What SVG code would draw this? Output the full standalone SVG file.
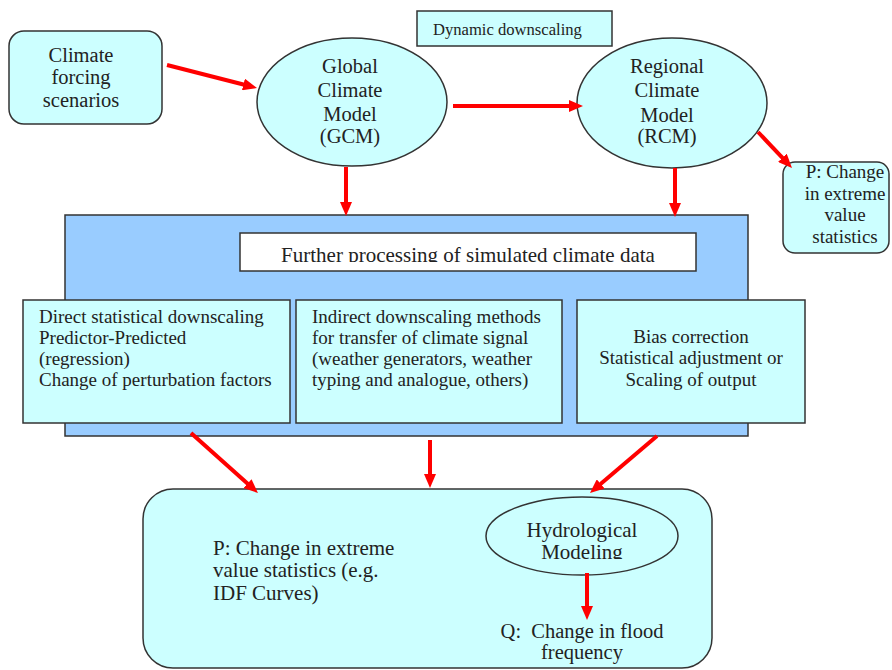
<svg xmlns="http://www.w3.org/2000/svg" width="892" height="670" viewBox="0 0 892 670">
<defs>
<style>
.box{fill:#ccffff;stroke:#333;stroke-width:1.5}
.blue{fill:#99ccff;stroke:#333;stroke-width:1.5}
.white{fill:#fff;stroke:#333;stroke-width:1.5}
.c{text-anchor:middle}
.arr{stroke:#ff0000;stroke-width:4;fill:none;marker-end:url(#ah)}
</style>
<marker id="ah" viewBox="0 0 14 12" markerWidth="14" markerHeight="12" refX="4" refY="6" orient="auto" markerUnits="userSpaceOnUse">
<path d="M0,0 L14,6 L0,12 z" fill="#ff0000"/>
</marker>
<clipPath id="clipF"><rect x="240" y="233" width="456" height="29"/></clipPath>
<clipPath id="clipH"><rect x="480" y="490" width="200" height="69"/></clipPath>
</defs>

<g font-family="Liberation Serif" font-size="19" fill="#222">

<g id="forcing" font-size="20.5">
<rect class="box" x="9" y="31" width="153" height="93" rx="15"/>
<text class="c" x="81" y="62">Climate</text>
<text class="c" x="81" y="84">forcing</text>
<text class="c" x="81" y="107">scenarios</text>
</g>

<g id="dynamic">
<rect class="box" x="417" y="11" width="195" height="35"/>
<text x="433" y="35" font-size="16.6">Dynamic downscaling</text>
</g>

<g id="gcm" font-size="20.5">
<ellipse class="box" cx="352" cy="102" rx="95" ry="64"/>
<text class="c" x="350" y="73">Global</text>
<text class="c" x="350" y="97">Climate</text>
<text class="c" x="350" y="121">Model</text>
<text class="c" x="350" y="143">(GCM)</text>
</g>

<g id="rcm" font-size="20.5">
<ellipse class="box" cx="672" cy="103" rx="95" ry="65"/>
<text class="c" x="667" y="73">Regional</text>
<text class="c" x="667" y="97">Climate</text>
<text class="c" x="667" y="122">Model</text>
<text class="c" x="667" y="143">(RCM)</text>
</g>

<g id="p-right">
<rect class="box" x="783" y="162" width="106" height="91" rx="12"/>
<text class="c" x="845" y="178">P: Change</text>
<text class="c" x="845" y="200">in extreme</text>
<text class="c" x="845" y="221">value</text>
<text class="c" x="845" y="243">statistics</text>
</g>

<g id="processing">
<rect class="blue" x="65" y="215" width="683" height="221"/>
<rect class="white" x="240" y="233" width="456" height="38"/>
<text class="c" x="468" y="262" font-size="21" clip-path="url(#clipF)">Further processing of simulated climate data</text>
</g>

<g id="direct">
<rect class="box" x="23" y="300" width="267" height="123"/>
<text x="39" y="323">Direct statistical downscaling</text>
<text x="39" y="344">Predictor-Predicted</text>
<text x="39" y="365">(regression)</text>
<text x="39" y="386">Change of perturbation factors</text>
</g>

<g id="indirect">
<rect class="box" x="296" y="300" width="266" height="123"/>
<text x="312" y="323">Indirect downscaling methods</text>
<text x="312" y="344">for transfer of climate signal</text>
<text x="312" y="365">(weather generators, weather</text>
<text x="312" y="386">typing and analogue, others)</text>
</g>

<g id="bias">
<rect class="box" x="577" y="300" width="228" height="123"/>
<text class="c" x="691" y="343">Bias correction</text>
<text class="c" x="691" y="364">Statistical adjustment or</text>
<text class="c" x="691" y="386">Scaling of output</text>
</g>

<g id="impacts" font-size="21">
<rect class="box" x="143" y="489" width="569" height="179" rx="30"/>
<text x="213" y="555">P: Change in extreme</text>
<text x="213" y="577">value statistics (e.g.</text>
<text x="213" y="600">IDF Curves)</text>
<text class="c" x="582" y="638" font-size="20.5">Q:&#160; Change in flood</text>
<text class="c" x="582" y="659" font-size="20.5">frequency</text>
</g>

<g id="hydro" font-size="21">
<ellipse class="box" cx="582" cy="536" rx="96" ry="39"/>
<text class="c" x="582" y="537">Hydrological</text>
<text class="c" x="582" y="559" clip-path="url(#clipH)">Modeling</text>
</g>

</g>

<g id="connectors">
<line class="arr" x1="167" y1="65" x2="247.3" y2="85.5"/>
<line class="arr" x1="453" y1="106" x2="573" y2="106"/>
<line class="arr" x1="758" y1="132" x2="785.1" y2="160.7"/>
<line class="arr" x1="346" y1="167" x2="346" y2="206"/>
<line class="arr" x1="675" y1="168" x2="675" y2="207"/>
<line class="arr" x1="191" y1="433" x2="250.5" y2="486.3"/>
<line class="arr" x1="430" y1="440" x2="430" y2="478"/>
<line class="arr" x1="657" y1="436" x2="597.6" y2="486.5"/>
<line class="arr" x1="587" y1="573" x2="587" y2="610"/>
</g>
</svg>
